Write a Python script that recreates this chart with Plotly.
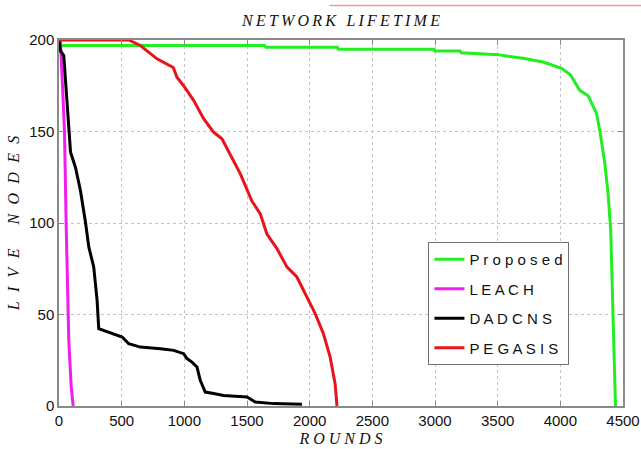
import plotly.graph_objects as go

# ---- data ----
series_names = ["Proposed", "LEACH", "DADCNS", "PEGASIS"]

proposed_x = [0, 1640, 1650, 2220, 2230, 2990, 3000, 3200, 3210, 3500, 3700, 3863, 4010, 4080,
              4155, 4222, 4288, 4315, 4355, 4381, 4402, 4416, 4429, 4437, 4440]
proposed_y = [197, 197, 196, 196, 195, 195, 194, 194, 193, 192, 190, 188, 184.5, 181,
              172.5, 169.5, 160, 150.5, 132.5, 116, 96, 59.5, 23, 6, 0]

leach_x = [0, 12, 33, 44, 57, 73, 78, 97, 113]
leach_y = [200, 199, 167, 150, 100, 50, 36, 11, 0]

dadcns_x = [0, 12, 38, 60, 78, 92, 131, 171, 211, 238, 277, 304, 317, 357, 464, 504, 556, 649,
            809, 915, 994, 1021, 1061, 1101, 1127, 1167, 1234, 1313, 1500, 1566, 1712, 1938]
dadcns_y = [200, 194, 191.5, 169, 150.6, 138.7, 130.5, 117.8, 100.5, 86.8, 76, 57.7, 42.3, 41.3,
            38.6, 37.7, 34, 32.2, 31.3, 30.4, 28.6, 25.9, 24, 21.3, 14, 7.6, 6.8, 5.8, 4.9, 2.2,
            1.3, 1]

pegasis_x = [0, 556, 649, 782, 912, 941, 994, 1074, 1154, 1233, 1300, 1366, 1446, 1539, 1606,
             1659, 1739, 1818, 1898, 1978, 2044, 2110, 2163, 2203, 2217, 2218]
pegasis_y = [200, 200, 197, 189.7, 185, 179.7, 175, 167, 157, 149.6, 146, 137, 127, 112, 105,
             94, 86, 76, 70.5, 59.5, 50.5, 39.5, 26.8, 12.2, 2, 0]

x_ticks = [0, 500, 1000, 1500, 2000, 2500, 3000, 3500, 4000, 4500]
y_ticks = [0, 50, 100, 150, 200]

colors = ["#22ee22", "#f01cf0", "#000000", "#e8141c"]
xs = [proposed_x, leach_x, dadcns_x, pegasis_x]
ys = [proposed_y, leach_y, dadcns_y, pegasis_y]


def spaced(s, sep=" "):
    return sep.join(list(s))


fig = go.Figure()
for i, name in enumerate(series_names):
    fig.add_trace(go.Scatter(
        x=xs[i], y=ys[i], mode="lines", name=spaced(name),
        line=dict(color=colors[i], width=3),
        legendgroup=name,
    ))

serif = "Liberation Serif, Times New Roman, serif"
sans = "Liberation Sans, Arial, sans-serif"

axis_common = dict(
    showline=True, linecolor="#8a8a8a", linewidth=1.5, mirror="ticks",
    ticks="inside", ticklen=5, tickcolor="#8a8a8a", tickwidth=1,
    showgrid=True, gridcolor="#c4c4c4", griddash="dot", gridwidth=1,
    zeroline=False, automargin=False,
    tickfont=dict(family=sans, size=15, color="#111"),
)

fig.update_layout(
    width=641, height=449,
    margin=dict(l=59, r=18, t=40, b=43),
    paper_bgcolor="white", plot_bgcolor="white",
    title=dict(
        text=spaced("NETWORK LIFETIME", "\u2009"),
        font=dict(family=serif, size=16, color="#111", style="italic"),
        x=0.5, xref="paper", xanchor="center",
        y=1 - 20 / 449, yref="container", yanchor="middle",
    ),
    xaxis=dict(
        range=[0, 4500], tickvals=x_ticks, ticktext=[str(v) for v in x_ticks],
        title=dict(text=spaced("ROUNDS"), standoff=5,
                   font=dict(family=serif, size=16, color="#111", style="italic")),
        **axis_common,
    ),
    yaxis=dict(
        range=[0, 200], tickvals=y_ticks, ticktext=[str(v) for v in y_ticks],
        title=dict(text=spaced("LIVE", "\u2002\u200a") + "\u2003\u2002" + spaced("NODES", "\u2002\u200a"),
                   standoff=6,
                   font=dict(family=serif, size=16, color="#111", style="italic")),
        **axis_common,
    ),
    showlegend=True,
    legend=dict(
        x=0.655, y=0.448, xanchor="left", yanchor="top",
        bgcolor="white", bordercolor="#707070", borderwidth=1,
        font=dict(family=sans, size=15, color="#111"),
        tracegroupgap=7,
    ),
    shapes=[dict(type="line", xref="paper", yref="paper",
                 x0=0.48, x1=1.04, y0=1.094, y1=1.094,
                 line=dict(color="rgba(225,110,110,0.7)", width=1.5))],
)

fig.write_html("out.html")
